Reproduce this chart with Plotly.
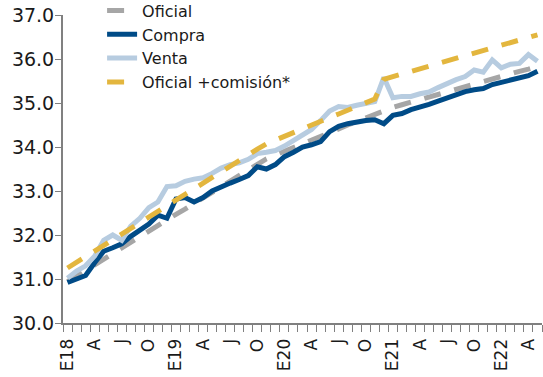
import plotly.graph_objects as go

months = [f"{y}-{m:02d}" for y in range(2018, 2023) for m in range(1, 13)][:53]

tick_pos = [0, 3, 6, 9, 12, 15, 18, 21, 24, 27, 30, 33, 36, 39, 42, 45, 48, 51]
tick_labels = ["E18", "A", "J", "O", "E19", "A", "J", "O", "E20", "A", "J", "O",
               "E21", "A", "J", "O", "E22", "A"]

oficial = [30.94, 31.07, 31.20, 31.32, 31.45, 31.57, 31.70, 31.83, 31.96, 32.08,
           32.21, 32.34, 32.47, 32.59, 32.72, 32.85, 32.97, 33.10, 33.23, 33.36,
           33.49, 33.61, 33.73, 33.82, 33.90, 33.99, 34.07, 34.16, 34.24, 34.33,
           34.41, 34.50, 34.58, 34.66, 34.74, 34.84, 34.90, 34.96, 35.02, 35.08,
           35.14, 35.20, 35.25, 35.31, 35.36, 35.42, 35.48, 35.54, 35.60, 35.66,
           35.72, 35.77, 35.83]

compra = [30.92, 31.00, 31.08, 31.37, 31.63, 31.71, 31.80, 31.97, 32.12, 32.25,
          32.45, 32.38, 32.82, 32.85, 32.75, 32.85, 33.00, 33.10, 33.18, 33.26,
          33.35, 33.55, 33.50, 33.60, 33.78, 33.88, 34.00, 34.05, 34.12, 34.35,
          34.47, 34.53, 34.57, 34.60, 34.62, 34.53, 34.72, 34.76, 34.85, 34.90,
          34.97, 35.04, 35.12, 35.20, 35.26, 35.30, 35.33, 35.42, 35.47, 35.52,
          35.56, 35.62, 35.72]

venta = [31.02, 31.18, 31.30, 31.52, 31.88, 32.00, 31.88, 32.20, 32.38, 32.62,
         32.75, 33.10, 33.12, 33.22, 33.27, 33.30, 33.40, 33.52, 33.60, 33.64,
         33.72, 33.85, 33.88, 33.92, 34.02, 34.15, 34.25, 34.40, 34.60, 34.82,
         34.92, 34.90, 34.95, 34.98, 35.03, 35.58, 35.12, 35.15, 35.15, 35.21,
         35.25, 35.35, 35.45, 35.53, 35.60, 35.75, 35.70, 35.98, 35.80, 35.88,
         35.90, 36.10, 35.95]

oficial_comision = [31.25, 31.38, 31.51, 31.63, 31.76, 31.89, 32.02, 32.15, 32.28, 32.40,
                    32.53, 32.66, 32.79, 32.92, 33.05, 33.18, 33.30, 33.43, 33.56, 33.69,
                    33.82, 33.95, 34.07, 34.16, 34.24, 34.33, 34.41, 34.50, 34.58, 34.67,
                    34.75, 34.84, 34.92, 35.01, 35.09, 35.54, 35.60, 35.66, 35.72, 35.78,
                    35.84, 35.90, 35.96, 36.02, 36.07, 36.13, 36.19, 36.25, 36.31, 36.37,
                    36.43, 36.49, 36.55]

x = list(range(len(months)))

FONT = "DejaVu Sans"
AXIS_COLOR = "#808080"
TEXT_COLOR = "#1a1a1a"

fig = go.Figure()
fig.add_trace(go.Scatter(x=x, y=oficial, name="Oficial", mode="lines",
                         line=dict(color="#A6A6A6", width=5, dash="17px,14px")))
fig.add_trace(go.Scatter(x=x, y=compra, name="Compra", mode="lines",
                         line=dict(color="#004B87", width=5)))
fig.add_trace(go.Scatter(x=x, y=venta, name="Venta", mode="lines",
                         line=dict(color="#B7CCE0", width=5)))
fig.add_trace(go.Scatter(x=x, y=oficial_comision, name="Oficial +comisión*", mode="lines",
                         line=dict(color="#E3B63E", width=5, dash="17px,14px")))

fig.update_layout(
    width=543, height=377,
    margin=dict(l=63, r=1, t=15, b=54, autoexpand=False),
    paper_bgcolor="white", plot_bgcolor="white",
    font=dict(family=FONT, size=16, color=TEXT_COLOR),
    showlegend=True,
    legend=dict(x=0.0816, y=1.0695, xanchor="left", yanchor="top",
                bgcolor="rgba(0,0,0,0)", font=dict(size=16, family=FONT, color=TEXT_COLOR),
                tracegroupgap=0, itemsizing="constant"),
    xaxis=dict(
        range=[-0.5, len(months) - 0.5],
        tickmode="array", tickvals=tick_pos, ticktext=tick_labels,
        tickangle=-90, ticks="outside", ticklen=7, tickcolor="rgba(0,0,0,0)",
        tickfont=dict(size=17, family=FONT, color=TEXT_COLOR),
        ticklabeloverflow="allow",
        showline=True, linecolor=AXIS_COLOR, linewidth=2,
        showgrid=False, zeroline=False, automargin=False,
        minor=dict(tickmode="linear", tick0=-0.5, dtick=1, ticks="outside",
                   ticklen=7, tickcolor=AXIS_COLOR, tickwidth=1, showgrid=False),
    ),
    yaxis=dict(
        range=[30, 37], tickmode="linear", tick0=30, dtick=1, tickformat=".1f",
        ticks="outside", ticklen=6, tickcolor=AXIS_COLOR, tickwidth=1,
        tickfont=dict(size=19, family=FONT, color=TEXT_COLOR),
        ticklabelstandoff=-3, ticklabeloverflow="allow",
        showline=True, linecolor=AXIS_COLOR, linewidth=2,
        showgrid=False, zeroline=False, automargin=False,
    ),
)

# remove the browser's default 8px body margin so the figure fills the window
fig.write_html("out.html", config={"displayModeBar": False},
               post_script="document.body.style.margin='0';")
